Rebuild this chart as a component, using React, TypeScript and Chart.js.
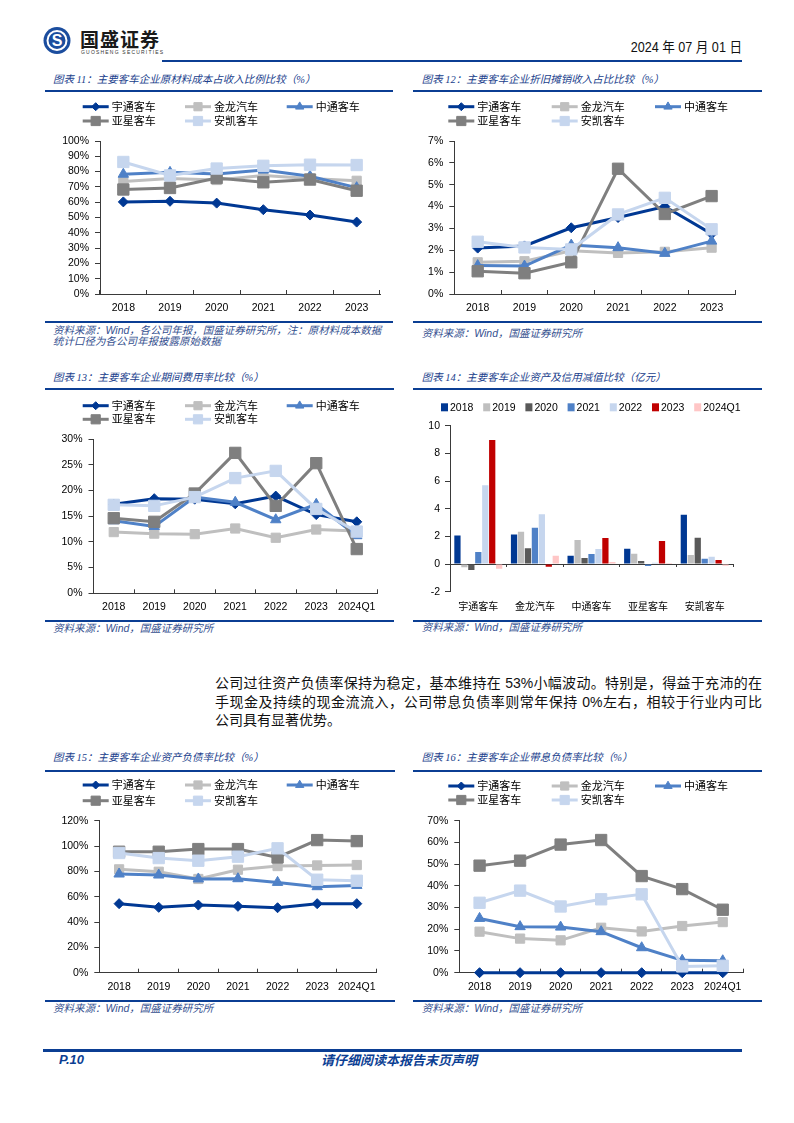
import React, { useEffect, useRef } from 'react';
import { Chart, registerables } from 'chart.js';
import { drawPoint } from 'chart.js/helpers';

Chart.register(...registerables);

// ---------------- data ----------------
const years = ['2018', '2019', '2020', '2021', '2022', '2023'];
const yearsQ = ['2018', '2019', '2020', '2021', '2022', '2023', '2024Q1'];
const companies = ['宇通客车', '金龙汽车', '中通客车', '亚星客车', '安凯客车'];
const barSeriesNames = ['2018', '2019', '2020', '2021', '2022', '2023', '2024Q1'];

// 图表11 原材料成本占收入比例 (%)
const yutong11 = [60.2, 60.6, 59.4, 55.1, 51.6, 47.0];
const jinlong11 = [73.5, 75.5, 74.5, 77.5, 75.5, 74.0];
const zhongtong11 = [78.3, 79.5, 78.5, 81.0, 77.0, 69.5];
const yaxing11 = [68.3, 69.3, 75.8, 73.0, 74.8, 67.5];
const ankai11 = [86.3, 77.5, 82.0, 83.8, 84.5, 84.3];

// 图表12 折旧摊销收入占比 (%)
const yutong12 = [2.1, 2.2, 3.03, 3.5, 4.0, 2.75];
const jinlong12 = [1.45, 1.5, 1.98, 1.88, 1.93, 2.12];
const zhongtong12 = [1.3, 1.28, 2.24, 2.12, 1.86, 2.42];
const yaxing12 = [1.04, 0.95, 1.45, 5.73, 3.66, 4.48];
const ankai12 = [2.39, 2.13, 2.04, 3.64, 4.4, 2.96];

// 图表13 期间费用率 (%)
const yutong13 = [17.3, 18.4, 18.3, 17.4, 18.9, 15.3, 13.9];
const jinlong13 = [11.9, 11.6, 11.5, 12.6, 10.8, 12.4, 12.1];
const zhongtong13 = [14.1, 13.0, 18.7, 17.7, 14.3, 17.3, 11.2];
const yaxing13 = [14.6, 13.9, 19.4, 27.3, 17.0, 25.3, 8.6];
const ankai13 = [17.2, 17.0, 18.7, 22.4, 23.8, 16.4, 12.0];

// 图表14 资产及信用减值 (亿元), one array per period across companies
const impair2018 = [2.07, 2.14, 0.6, 1.1, 3.56];
const impair2019 = [-0.24, 2.33, 1.73, 0.75, 0.65];
const impair2020 = [-0.43, 1.15, 0.43, 0.22, 1.9];
const impair2021 = [0.87, 2.62, 0.72, -0.14, 0.38];
const impair2022 = [5.7, 3.59, 1.08, 0.1, 0.53];
const impair2023 = [8.96, -0.19, 1.88, 1.66, 0.29];
const impair2024Q1 = [-0.34, 0.6, 0.14, 0.07, -0.12];

// 图表15 资产负债率 (%)
const yutong15 = [54.5, 51.6, 53.4, 52.4, 51.3, 54.5, 54.5];
const jinlong15 = [81.6, 79.7, 74.0, 81.3, 84.2, 84.7, 85.0];
const zhongtong15 = [77.9, 77.1, 74.0, 74.2, 71.3, 67.9, 68.9];
const yaxing15 = [95.5, 95.5, 97.6, 97.6, 91.0, 104.7, 103.9];
const ankai15 = [94.5, 90.5, 88.4, 91.6, 98.2, 73.4, 72.6];

// 图表16 带息负债率 (%)
const yutong16 = [0, 0, 0, 0, 0, 0, 0];
const jinlong16 = [18.9, 15.7, 14.9, 20.7, 19.0, 21.5, 23.3];
const zhongtong16 = [25.0, 21.2, 21.0, 18.9, 11.5, 5.7, 5.5];
const yaxing16 = [49.3, 51.6, 59.0, 61.1, 44.5, 38.5, 29.0];
const ankai16 = [32.2, 37.8, 30.5, 33.8, 36.1, 2.9, 3.2];

// ---------------- styles ----------------
const CJK = "'Noto Sans CJK SC', sans-serif";
const LATIN = "'Liberation Sans', Arial, sans-serif";
const NAVY = '#0b3e93';
const TEXT_BLUE = '#20408c';
const AXIS = '#3a3a3a';

const SERIES_STYLE = [
  { color: '#003893', pointStyle: 'rectRot', radius: 5, legendRadius: 4 },
  { color: '#bfbfbf', pointStyle: 'rect', radius: 6.5, legendRadius: 5.8 },
  { color: '#4f81c7', pointStyle: 'triangle', radius: 6, legendRadius: 4.8 },
  { color: '#7f7f7f', pointStyle: 'rect', radius: 8, legendRadius: 6.5 },
  { color: '#c6d6ee', pointStyle: 'rect', radius: 8, legendRadius: 6.5 },
];
const BAR_COLORS = ['#003893', '#bfbfbf', '#595959', '#4f81c7', '#c6d6ee', '#c00000', '#ffc6c6'];

// ---------------- legend plugin ----------------
function makeLegendPlugin(o: any) {
  return {
    id: 'gridLegend',
    afterDraw(chart: any) {
      const ctx = chart.ctx;
      const ds = chart.data.datasets;
      ctx.save();
      ctx.textBaseline = 'middle';
      ctx.textAlign = 'left';
      if (o.kind === 'line') {
        ds.forEach((d: any, i: number) => {
          const x = o.cols[i % 3];
          const y = o.rows[Math.floor(i / 3)];
          ctx.strokeStyle = d.borderColor;
          ctx.lineWidth = d.borderWidth;
          ctx.beginPath();
          ctx.moveTo(x, y);
          ctx.lineTo(x + o.sampleW, y);
          ctx.stroke();
          ctx.fillStyle = d.pointBackgroundColor;
          ctx.strokeStyle = d.pointBorderColor;
          ctx.lineWidth = 1;
          drawPoint(ctx, { pointStyle: d.pointStyle, rotation: 0, radius: d.legendRadius, borderWidth: 1 } as any, x + o.sampleW / 2, y);
          ctx.fillStyle = '#000';
          ctx.font = `${o.fontSize}px ${CJK}`;
          ctx.fillText(d.label, x + o.sampleW + o.gap, y);
        });
      } else {
        ds.forEach((d: any, i: number) => {
          const x = o.x0 + i * o.pitch;
          const y = o.y;
          ctx.fillStyle = d.backgroundColor;
          ctx.fillRect(x, y - 4, 7, 8);
          ctx.fillStyle = '#000';
          ctx.font = `${o.fontSize}px ${LATIN}`;
          ctx.fillText(d.label, x + 9, y + 0.5);
        });
      }
      ctx.restore();
    },
  };
}

function lineDatasets(series: number[][]) {
  return series.map((d, i) => {
    const s = SERIES_STYLE[i];
    return {
      label: companies[i],
      data: d,
      borderColor: s.color,
      backgroundColor: s.color,
      pointBackgroundColor: s.color,
      pointBorderColor: s.color,
      pointBorderWidth: 1,
      borderWidth: 3,
      pointStyle: s.pointStyle,
      pointRadius: s.radius,
      legendRadius: s.legendRadius,
      tension: 0,
      clip: false,
      order: 5 - i,
    };
  });
}

function lineConfig(p: any) {
  return {
    type: 'line',
    data: { labels: p.labels, datasets: lineDatasets(p.series) },
    options: {
      responsive: false,
      animation: false,
      events: [],
      layout: { padding: { left: 0, top: p.padTop, right: p.padRight, bottom: 0 } },
      plugins: { legend: { display: false }, tooltip: { enabled: false } },
      scales: {
        x: {
          offset: true,
          grid: { offset: true, drawOnChartArea: false, drawTicks: true, tickLength: -4, color: AXIS, lineWidth: 1 },
          border: { display: true, color: AXIS, width: 1 },
          ticks: { padding: 12, color: '#000', font: { family: LATIN, size: 10.5 }, autoSkip: false, maxRotation: 0 },
          afterFit: (s: any) => { s.height = p.xH; },
        },
        y: {
          min: p.min,
          max: p.max,
          ticks: { stepSize: p.step, autoSkip: false, padding: 6, color: '#000', font: { family: LATIN, size: 10.5 }, callback: (v: any) => v + '%' },
          grid: { drawOnChartArea: false, drawTicks: true, tickLength: 5, color: AXIS, lineWidth: 1 },
          border: { display: true, color: AXIS, width: 1 },
          afterFit: (s: any) => { s.width = p.yW; },
        },
      },
    },
    plugins: [makeLegendPlugin({ kind: 'line', cols: p.cols, rows: p.rows, sampleW: 26, gap: 3, fontSize: 11 })],
  };
}

function barConfig() {
  const series = [impair2018, impair2019, impair2020, impair2021, impair2022, impair2023, impair2024Q1];
  return {
    type: 'bar',
    data: {
      labels: companies,
      datasets: series.map((d, i) => ({
        label: barSeriesNames[i],
        data: d,
        backgroundColor: BAR_COLORS[i],
        borderWidth: 0,
        barPercentage: 0.9,
        categoryPercentage: 0.86,
      })),
    },
    options: {
      responsive: false,
      animation: false,
      events: [],
      layout: { padding: { left: 0, top: 33.7, right: 30, bottom: 0 } },
      plugins: { legend: { display: false }, tooltip: { enabled: false } },
      scales: {
        x: {
          grid: { display: false, drawTicks: false },
          border: { display: false },
          ticks: { padding: 9, color: '#000', font: { family: CJK, size: 10 }, autoSkip: false, maxRotation: 0 },
          afterFit: (s: any) => { s.height = 28.3; },
        },
        xz: {
          type: 'category',
          position: { y: 0 },
          offset: true,
          grid: { offset: true, drawOnChartArea: false, drawTicks: true, tickLength: 3, color: AXIS, lineWidth: 1 },
          border: { display: false },
          ticks: { display: false },
          afterFit: (s: any) => { s.height = 0; },
        },
        y: {
          min: -2,
          max: 10,
          ticks: { stepSize: 2, autoSkip: false, padding: 5, color: '#000', font: { family: LATIN, size: 10.5 } },
          grid: {
            drawOnChartArea: true,
            drawTicks: true,
            tickLength: 5,
            color: (c: any) => (c.tick && c.tick.value === 0 ? AXIS : 'rgba(0,0,0,0)'),
            tickColor: AXIS,
            lineWidth: 1,
          },
          border: { display: true, color: AXIS, width: 1 },
          afterFit: (s: any) => { s.width = 37; },
        },
      },
    },
    plugins: [makeLegendPlugin({ kind: 'box', x0: 28, pitch: 42.2, y: 15.3, fontSize: 10.5 })],
  };
}

// ---------------- components ----------------
function ChartCanvas({ make, left, top, width, height }: any) {
  const ref = useRef<HTMLCanvasElement>(null);
  useEffect(() => {
    const chart = new Chart(ref.current as HTMLCanvasElement, make() as any);
    return () => chart.destroy();
  }, []);
  return (
    <canvas
      ref={ref}
      width={width}
      height={height}
      style={{ position: 'absolute', left, top, width, height }}
    />
  );
}

const abs = (left: number, top: number, extra: any = {}) => ({ position: 'absolute' as const, left, top, ...extra });

function Rule({ x1, x2, y, h = 2 }: any) {
  return <div style={abs(x1, y - h / 2, { width: x2 - x1, height: h, background: NAVY })} />;
}

function Title({ x, y, text }: any) {
  return (
    <div style={abs(x, y - 7, { fontFamily: `'Liberation Serif', ${CJK}`, fontStyle: 'italic', fontSize: 10.5, lineHeight: '14px', color: TEXT_BLUE, whiteSpace: 'nowrap' })}>
      {text}
    </div>
  );
}

function Source({ x, y, text }: any) {
  return (
    <div style={abs(x, y - 6, { fontFamily: `'Liberation Sans', ${CJK}`, fontStyle: 'italic', fontSize: 10.5, lineHeight: '12px', color: '#34508f', whiteSpace: 'nowrap' })}>
      {text}
    </div>
  );
}

const SRC = '资料来源：Wind，国盛证券研究所';

export default function App() {
  const colsL = [37.7, 140, 241.7];
  const colsR = [35.3, 138.7, 242];
  const paraStyle = {
    fontFamily: `'Liberation Sans', ${CJK}`,
    fontSize: 14,
    lineHeight: '19px',
    color: '#111',
    width: 547,
    textAlign: 'justify' as const,
    textAlignLast: 'justify' as const,
    whiteSpace: 'nowrap' as const,
  };
  return (
    <div style={{ position: 'absolute', left: 0, top: 0, width: 794, height: 1123, background: '#fff', overflow: 'hidden' }}>
      {/* header */}
      <svg style={abs(43, 25)} width={28} height={31} viewBox="0 0 28 31">
        <circle cx="14" cy="15.5" r="13.5" fill="#1b4d9e" />
        <circle cx="14" cy="15.5" r="9.5" fill="none" stroke="#fff" strokeWidth="2" />
        <text x="14" y="21" textAnchor="middle" fontSize="16" fontWeight="bold" fill="#fff" fontFamily={LATIN}>S</text>
      </svg>
      <div style={abs(80, 28, { fontFamily: CJK, fontWeight: 700, fontSize: 19, lineHeight: '22px', letterSpacing: 1, color: '#1a1a1a', whiteSpace: 'nowrap' })}>国盛证券</div>
      <div style={abs(81, 49, { fontFamily: LATIN, fontSize: 5, lineHeight: '6px', letterSpacing: 1.2, color: '#333', whiteSpace: 'nowrap' })}>GUOSHENG SECURITIES</div>
      <div style={abs(560, 38, { width: 182, textAlign: 'right', fontFamily: `'Liberation Sans Narrow', 'Liberation Sans', ${CJK}`, fontSize: 14, lineHeight: '18px', color: '#111', whiteSpace: 'nowrap', transform: 'scaleX(0.9)', transformOrigin: 'right center' })}>2024 年 07 月 01 日</div>
      <Rule x1={162} x2={742} y={61} h={2.5} />

      {/* chart 11 */}
      <Title x={53} y={80} text="图表 11：主要客车企业原材料成本占收入比例比较（%）" />
      <Rule x1={45} x2={393} y={90.7} />
      <ChartCanvas
        left={45} top={93} width={350} height={227}
        make={() => lineConfig({ labels: years, series: [yutong11, jinlong11, zhongtong11, yaxing11, ankai11], min: 0, max: 100, step: 10, yW: 55, padTop: 48, padRight: 15, xH: 26, cols: colsL, rows: [13.7, 28] })}
      />
      <Rule x1={45} x2={393} y={322} />
      <Source x={53} y={329.5} text="资料来源：Wind，各公司年报，国盛证券研究所，注：原材料成本数据" />
      <Source x={53} y={341} text="统计口径为各公司年报披露原始数据" />

      {/* chart 12 */}
      <Title x={421.7} y={80} text="图表 12：主要客车企业折旧摊销收入占比比较（%）" />
      <Rule x1={413} x2={762} y={90.7} />
      <ChartCanvas
        left={413} top={93} width={350} height={227}
        make={() => lineConfig({ labels: years, series: [yutong12, jinlong12, zhongtong12, yaxing12, ankai12], min: 0, max: 7, step: 1, yW: 41.3, padTop: 48, padRight: 28, xH: 26, cols: colsR, rows: [13.7, 28] })}
      />
      <Rule x1={413} x2={762} y={322} />
      <Source x={421.7} y={333.3} text={SRC} />

      {/* chart 13 */}
      <Title x={53} y={378.3} text="图表 13：主要客车企业期间费用率比较（%）" />
      <Rule x1={45} x2={394} y={389.3} />
      <ChartCanvas
        left={45} top={392} width={350} height={228}
        make={() => lineConfig({ labels: yearsQ, series: [yutong13, jinlong13, zhongtong13, yaxing13, ankai13], min: 0, max: 30, step: 5, yW: 48.5, padTop: 47, padRight: 18, xH: 26.7, cols: colsL, rows: [13.7, 27.3] })}
      />
      <Rule x1={45} x2={394} y={621} />
      <Source x={53} y={628.3} text={SRC} />

      {/* chart 14 */}
      <Title x={421.7} y={378.3} text="图表 14：主要客车企业资产及信用减值比较（亿元）" />
      <Rule x1={413} x2={762} y={389.3} />
      <ChartCanvas left={413} top={392} width={350} height={228} make={barConfig} />
      <Rule x1={413} x2={762} y={621} />
      <Source x={421.7} y={627} text={SRC} />

      {/* paragraph */}
      <div style={abs(215, 673.5, paraStyle)}>公司过往资产负债率保持为稳定，基本维持在 53%小幅波动。特别是，得益于充沛的在</div>
      <div style={abs(215, 692.5, paraStyle)}>手现金及持续的现金流流入，公司带息负债率则常年保持 0%左右，相较于行业内可比</div>
      <div style={abs(215, 710.5, { ...paraStyle, textAlignLast: 'left' as const })}>公司具有显著优势。</div>

      {/* chart 15 */}
      <Title x={53} y={758.3} text="图表 15：主要客车企业资产负债率比较（%）" />
      <Rule x1={45} x2={395} y={770.7} />
      <ChartCanvas
        left={45} top={772} width={350} height={227}
        make={() => lineConfig({ labels: yearsQ, series: [yutong15, jinlong15, zhongtong15, yaxing15, ankai15], min: 0, max: 120, step: 20, yW: 54.3, padTop: 48.7, padRight: 18.4, xH: 26.3, cols: colsL, rows: [13, 28.7] })}
      />
      <Rule x1={45} x2={395} y={1000.7} />
      <Source x={53} y={1008.3} text={SRC} />

      {/* chart 16 */}
      <Title x={421.7} y={758.3} text="图表 16：主要客车企业带息负债率比较（%）" />
      <Rule x1={413} x2={762} y={770.7} />
      <ChartCanvas
        left={413} top={772} width={350} height={227}
        make={() => lineConfig({ labels: yearsQ, series: [yutong16, jinlong16, zhongtong16, yaxing16, ankai16], min: 0, max: 70, step: 10, yW: 46.3, padTop: 48.7, padRight: 20, xH: 26.3, cols: colsR, rows: [14, 28] })}
      />
      <Rule x1={413} x2={762} y={1000.7} />
      <Source x={421.7} y={1008.3} text={SRC} />

      {/* footer */}
      <Rule x1={43} x2={742} y={1050.7} h={2.5} />
      <div style={abs(59, 1052, { fontFamily: LATIN, fontWeight: 700, fontStyle: 'italic', fontSize: 13, lineHeight: '16px', color: NAVY })}>P.10</div>
      <div style={abs(300, 1052, { width: 198, textAlign: 'center', fontFamily: CJK, fontWeight: 700, fontStyle: 'italic', fontSize: 13, lineHeight: '16px', color: NAVY, whiteSpace: 'nowrap' })}>请仔细阅读本报告末页声明</div>
    </div>
  );
}
